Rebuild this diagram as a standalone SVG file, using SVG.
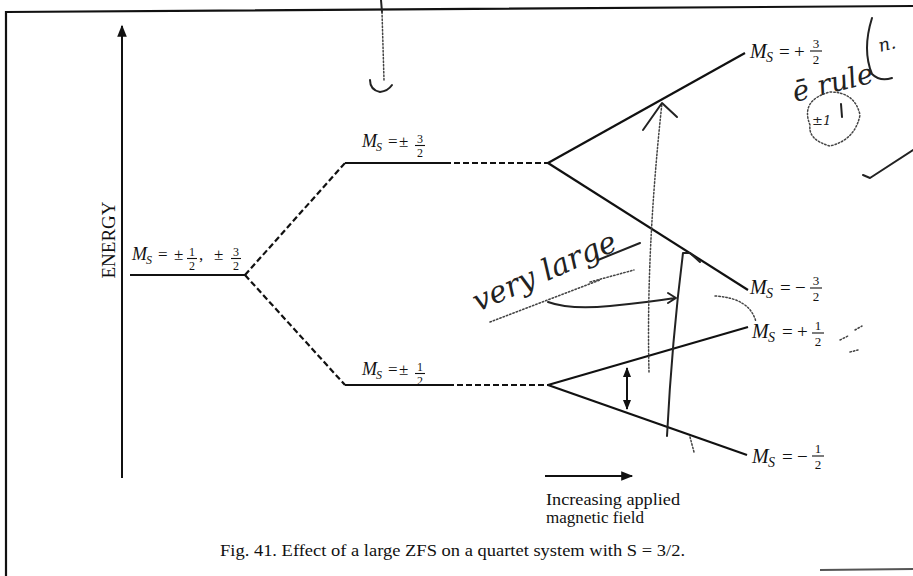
<svg xmlns="http://www.w3.org/2000/svg" width="913" height="576" viewBox="0 0 913 576">
<style>
  text { font-family: "Liberation Serif", "Times New Roman", serif; fill: #111; }
  .m { font-style: italic; font-size: 18px; }
  .s { font-style: italic; font-size: 12px; }
  .r { font-size: 17px; }
  .f { font-size: 12px; text-anchor: middle; }
  .big .m { font-size: 20px; }
  .big .s { font-size: 14px; }
  .big .r { font-size: 19px; }
  .big .f { font-size: 13px; }
  .bar { stroke: #111; stroke-width: 1.1; }
  .lvl { stroke: #111; stroke-width: 2.2; fill: none; }
  .dash { stroke: #111; stroke-width: 2.2; fill: none; stroke-dasharray: 6 3; }
  .hand { stroke: #222; stroke-width: 2; fill: none; stroke-linecap: round; stroke-linejoin: round; }
  .handdot { stroke: #444; stroke-width: 1.5; fill: none; stroke-dasharray: 1.5 2; stroke-linecap: round; }
  .hw { font-family: "DejaVu Serif", "Liberation Serif", serif; font-style: italic; fill: #222; }
  .cap { font-size: 17px; }
  .lab { font-size: 16px; }
</style>
<defs>
  <marker id="ah" viewBox="0 0 10 10" refX="9" refY="5" markerWidth="10" markerHeight="10" markerUnits="userSpaceOnUse" orient="auto-start-reverse">
    <path d="M0,1 L10,5 L0,9 Z" fill="#111"/>
  </marker>
  <marker id="ah2" viewBox="0 0 10 10" refX="9" refY="5" markerWidth="14" markerHeight="12" markerUnits="userSpaceOnUse" orient="auto-start-reverse">
    <path d="M0,1 L10,5 L0,9 Z" fill="#111"/>
  </marker>
</defs>
<rect width="913" height="576" fill="#fff"/>

<!-- frame -->
<g id="frame">
  <path d="M6,576 L6,12 L913,6" fill="none" stroke="#111" stroke-width="2.2"/>
  <path d="M820,570 L913,569" fill="none" stroke="#555" stroke-width="2"/>
</g>

<!-- energy axis -->
<g id="energy-axis">
  <line x1="122" y1="478" x2="122" y2="26" stroke="#111" stroke-width="2" marker-end="url(#ah2)"/>
  <text transform="translate(115,240) rotate(-90)" text-anchor="middle" style="font-size:19px">ENERGY</text>
</g>

<g id="connectors">
  <path class="dash" d="M245,275 L345,163"/>
  <path class="dash" d="M245,275 L345,385"/>
  <path class="lvl" d="M548,163 L745,53"/>
  <path class="lvl" d="M548,163 L748,290"/>
  <path class="lvl" d="M548,385 L748,327"/>
  <path class="lvl" d="M548,385 L747,455"/>
  <line x1="627" y1="368" x2="627" y2="409" stroke="#111" stroke-width="2" marker-start="url(#ah)" marker-end="url(#ah)"/>
</g>

<!-- left level -->
<g id="level-zero-field">
  <path class="lvl" d="M130,275 L245,275"/>
  <g transform="translate(132,260)">
    <text class="m" x="0" y="0">M</text>
    <text class="s" x="14" y="4">S</text>
    <text class="r" x="26" y="0">=</text>
    <text class="r" x="42" y="0">±</text>
    <text class="f" x="60" y="-4">1</text><line class="bar" x1="55" y1="-1.5" x2="65" y2="-1.5"/><text class="f" x="60" y="10">2</text>
    <text class="r" x="67" y="0">,</text>
    <text class="r" x="82" y="0">±</text>
    <text class="f" x="104" y="-4">3</text><line class="bar" x1="99" y1="-1.5" x2="109" y2="-1.5"/><text class="f" x="104" y="10">2</text>
  </g>
</g>

<!-- middle upper level -->
<g id="level-pm32">
  <path class="lvl" d="M345,163 L445,163"/>
  <path class="dash" d="M445,163 L548,163"/>
  <g transform="translate(362,147)">
    <text class="m" x="0" y="0">M</text>
    <text class="s" x="14" y="4">S</text>
    <text class="r" x="26" y="0">=</text>
    <text class="r" x="37" y="0">±</text>
    <text class="f" x="58" y="-4">3</text><line class="bar" x1="53" y1="-1.5" x2="63" y2="-1.5"/><text class="f" x="58" y="10">2</text>
  </g>
</g>

<!-- middle lower level -->
<g id="level-pm12">
  <path class="lvl" d="M345,385 L448,385"/>
  <path class="dash" d="M448,385 L548,385"/>
  <g transform="translate(362,375)">
    <text class="m" x="0" y="0">M</text>
    <text class="s" x="14" y="4">S</text>
    <text class="r" x="26" y="0">=</text>
    <text class="r" x="37" y="0">±</text>
    <text class="f" x="58" y="-4">1</text><line class="bar" x1="53" y1="-1.5" x2="63" y2="-1.5"/><text class="f" x="58" y="10">2</text>
  </g>
</g>

<!-- right labels -->
<g id="ms-plus32" class="big" transform="translate(750,58)">
  <text class="m" x="0" y="0">M</text>
  <text class="s" x="16" y="4">S</text>
  <text class="r" x="29" y="0">=</text>
  <text class="r" x="44" y="0">+</text>
  <text class="f" x="66" y="-10">3</text><line class="bar" x1="60" y1="-7" x2="72" y2="-7"/><text class="f" x="66" y="6">2</text>
</g>
<g id="ms-minus32" class="big" transform="translate(750,294)">
  <text class="m" x="0" y="0">M</text>
  <text class="s" x="16" y="4">S</text>
  <text class="r" x="30" y="0">=</text>
  <text class="r" x="45" y="0">−</text>
  <text class="f" x="66" y="-9">3</text><line class="bar" x1="60" y1="-6" x2="72" y2="-6"/><text class="f" x="66" y="7">2</text>
</g>
<g id="ms-plus12" class="big" transform="translate(752,338)">
  <text class="m" x="0" y="0">M</text>
  <text class="s" x="16" y="4">S</text>
  <text class="r" x="30" y="0">=</text>
  <text class="r" x="45" y="0">+</text>
  <text class="f" x="66" y="-8">1</text><line class="bar" x1="60" y1="-5" x2="72" y2="-5"/><text class="f" x="66" y="8">2</text>
</g>
<g id="ms-minus12" class="big" transform="translate(752,463)">
  <text class="m" x="0" y="0">M</text>
  <text class="s" x="16" y="4">S</text>
  <text class="r" x="30" y="0">=</text>
  <text class="r" x="45" y="0">−</text>
  <text class="f" x="66" y="-10">1</text><line class="bar" x1="60" y1="-7" x2="72" y2="-7"/><text class="f" x="66" y="6">2</text>
</g>

<!-- field arrow -->
<g id="field-arrow">
  <line x1="545" y1="476" x2="632" y2="476" stroke="#111" stroke-width="2" marker-end="url(#ah2)"/>
  <text class="lab" x="546" y="505" textLength="134" lengthAdjust="spacingAndGlyphs">Increasing applied</text>
  <text class="lab" x="546" y="523" textLength="98" lengthAdjust="spacingAndGlyphs">magnetic field</text>
</g>

<!-- caption -->
<g id="caption">
  <text class="cap" x="220" y="556" textLength="465" lengthAdjust="spacingAndGlyphs">Fig. 41. Effect of a large ZFS on a quartet system with S = 3/2.</text>
</g>

<!-- handwritten annotations -->
<g id="handwriting">
  <path class="hand" d="M381,0 L382,12" />
  <path class="handdot" d="M382,12 L384,80"/>
  <path class="hand" d="M370,80 Q370,90 380,92 Q388,91 392,85"/>
  <text class="hw" font-size="30" transform="translate(478,312) rotate(-24)">very large</text>
  <path class="hand" d="M598,260 L640,243"/>
  <path class="handdot" d="M590,282 L634,270"/>
  <path class="hand" stroke-width="1.5" d="M548,302 Q570,310 610,306 Q650,302 675,298 M668,293 L676,298 L668,303"/>
  <path class="handdot" d="M490,322 L600,280"/>
  <path class="handdot" d="M649,372 Q646,250 662,103"/>
  <path class="hand" stroke-width="2" d="M643,130 L662,103 L677,117"/>
  <path class="hand" stroke-width="2.5" d="M667,436 Q672,340 683,253 L690,253 L700,262"/>
  <path class="handdot" d="M715,296 Q750,298 756,322"/>
  <path class="handdot" d="M690,437 L694,452"/>
  <text class="hw" font-size="28" transform="translate(795,102) rotate(-14)">ē rule</text>
  <path class="hand" stroke-width="1.8" d="M872,18 Q862,50 872,74 Q880,82 892,78"/>
  <text class="hw" font-size="18" transform="translate(880,52) rotate(-14)">n.</text>
  <path class="handdot" d="M810,125 Q800,100 830,92 Q855,92 860,115 Q855,140 830,146 Q808,140 810,125"/>
  <text class="hw" font-size="13" x="812" y="125" fill="#444">±1</text>
  <line class="hand" x1="841" y1="104" x2="842" y2="117"/>
  <path class="hand" stroke-width="3" d="M863,175 L870,178 L913,150"/>
  <path class="handdot" d="M855,330 L862,326 M840,340 L848,336 M850,352 L858,350"/>
</g>
</svg>
